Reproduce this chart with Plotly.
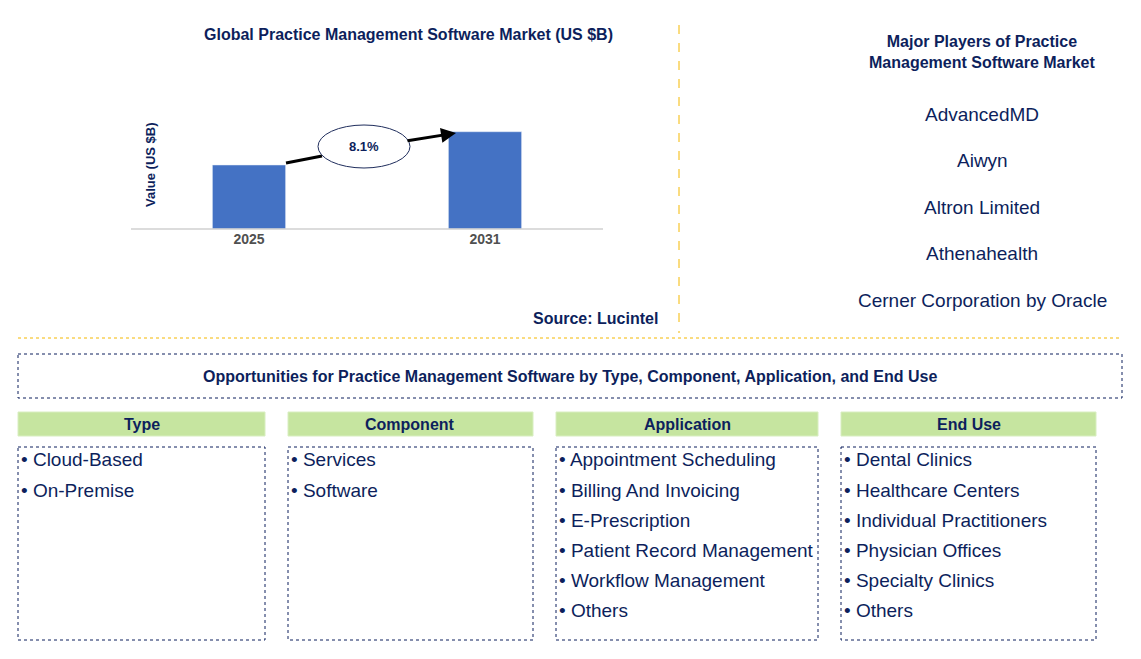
import plotly.graph_objects as go

W, H = 1141, 659
OFF = 8  # page body margin
NAVY = '#0d1f5c'

# chart data
years = ['2025', '2031']
values = [5.0, 7.6]
cagr = '8.1%'

players = ['AdvancedMD', 'Aiwyn', 'Altron Limited', 'Athenahealth', 'Cerner Corporation by Oracle']

seg_titles = ['Type', 'Component', 'Application', 'End Use']
seg_items = [
    ['Cloud-Based', 'On-Premise'],
    ['Services', 'Software'],
    ['Appointment Scheduling', 'Billing And Invoicing', 'E-Prescription',
     'Patient Record Management', 'Workflow Management', 'Others'],
    ['Dental Clinics', 'Healthcare Centers', 'Individual Practitioners',
     'Physician Offices', 'Specialty Clinics', 'Others'],
]
seg_x = [(18, 265), (288, 533), (556, 818), (841, 1096)]

FW, FH = W - 2 * OFF, H - 2 * OFF


def px(x):
    return (x - OFF) / FW


def py(y):
    return 1 - (y - OFF) / FH


def note(x, y, text, size, xanchor='center', **kw):
    return dict(xref='paper', yref='paper', x=px(x), y=py(y), text=text, showarrow=False,
                xanchor=xanchor, yanchor='middle', font=dict(size=size, color=NAVY), **kw)


fig = go.Figure()
fig.add_trace(go.Bar(x=years, y=values, marker_color='#4472c4', width=0.31))

shapes = []
ann = []

# axis baseline
shapes.append(dict(type='line', xref='paper', yref='paper', x0=px(131), x1=px(603),
                   y0=py(229), y1=py(229), line=dict(color='#d0d0d0', width=1.5)))
# separators
shapes.append(dict(type='line', xref='paper', yref='paper', x0=px(679), x1=px(679),
                   y0=py(25), y1=py(333), line=dict(color='#f5b800', width=1, dash='dash')))
shapes.append(dict(type='line', xref='paper', yref='paper', x0=px(18), x1=px(1122),
                   y0=py(338), y1=py(338), line=dict(color='#f5b800', width=1, dash='dot')))

# growth arrow + ellipse
shapes.append(dict(type='line', xref='paper', yref='paper', x0=px(286), x1=px(322),
                   y0=py(163), y1=py(156), line=dict(color='black', width=3)))
ann.append(dict(xref='paper', yref='paper', axref='pixel', ayref='pixel',
                x=px(456), y=py(133), ax=-50, ay=8, text='', showarrow=True,
                arrowhead=2, arrowsize=1, arrowwidth=3, arrowcolor='black'))
shapes.append(dict(type='circle', xref='paper', yref='paper', x0=px(318), x1=px(410),
                   y0=py(168), y1=py(125), fillcolor='white', line=dict(color='#1f2d5c', width=1)))
ann.append(note(364, 146, '<b>' + cagr + '</b>', 13))

ann.append(note(408, 35, '<b>Global Practice Management Software Market (US $B)</b>', 16))
ann.append(note(150, 165, '<b>Value (US $B)</b>', 13, textangle=-90))
ann.append(note(660, 318, '<b>Source: Lucintel</b>', 16, xanchor='right'))

# major players
ann.append(note(982, 52, '<b>Major Players of Practice<br>Management Software Market</b>', 16))
for i, p in enumerate(players):
    ann.append(note(982, 114 + i * 46.5, p, 19))

# opportunities
shapes.append(dict(type='rect', xref='paper', yref='paper', x0=px(18), x1=px(1122),
                   y0=py(354), y1=py(398), line=dict(color=NAVY, width=1, dash='dot')))
ann.append(note(570, 376, '<b>Opportunities for Practice Management Software by Type, '
                'Component, Application, and End Use</b>', 16))

for (x0, x1), t, items in zip(seg_x, seg_titles, seg_items):
    shapes.append(dict(type='rect', xref='paper', yref='paper', x0=px(x0), x1=px(x1),
                       y0=py(412), y1=py(436), fillcolor='#c6e5a0',
                       line=dict(color='#d8eec0', width=1)))
    ann.append(note((x0 + x1) / 2, 424, '<b>' + t + '</b>', 16))
    shapes.append(dict(type='rect', xref='paper', yref='paper', x0=px(x0), x1=px(x1),
                       y0=py(447), y1=py(640), line=dict(color=NAVY, width=1, dash='dot')))
    for j, it in enumerate(items):
        ann.append(note(x0 + 1, 460 + j * 30, '• ' + it, 19, xanchor='left'))

fig.update_layout(
    width=FW, height=FH, margin=dict(l=0, r=0, t=0, b=0),
    paper_bgcolor='white', plot_bgcolor='white', showlegend=False,
    font=dict(family='Liberation Sans, Arial'),
    xaxis=dict(domain=[px(131), px(603)], range=[-0.5, 1.5], type='category',
               showgrid=False, showline=False, ticks='', ticklen=0,
               tickfont=dict(size=14, color='#505050'),
               tickprefix='<b>', ticksuffix='</b>'),
    yaxis=dict(domain=[py(229), py(101)], range=[0, 10], showgrid=False,
               showticklabels=False, zeroline=False, showline=False),
    shapes=shapes, annotations=ann,
)

fig.write_html('out.html')
